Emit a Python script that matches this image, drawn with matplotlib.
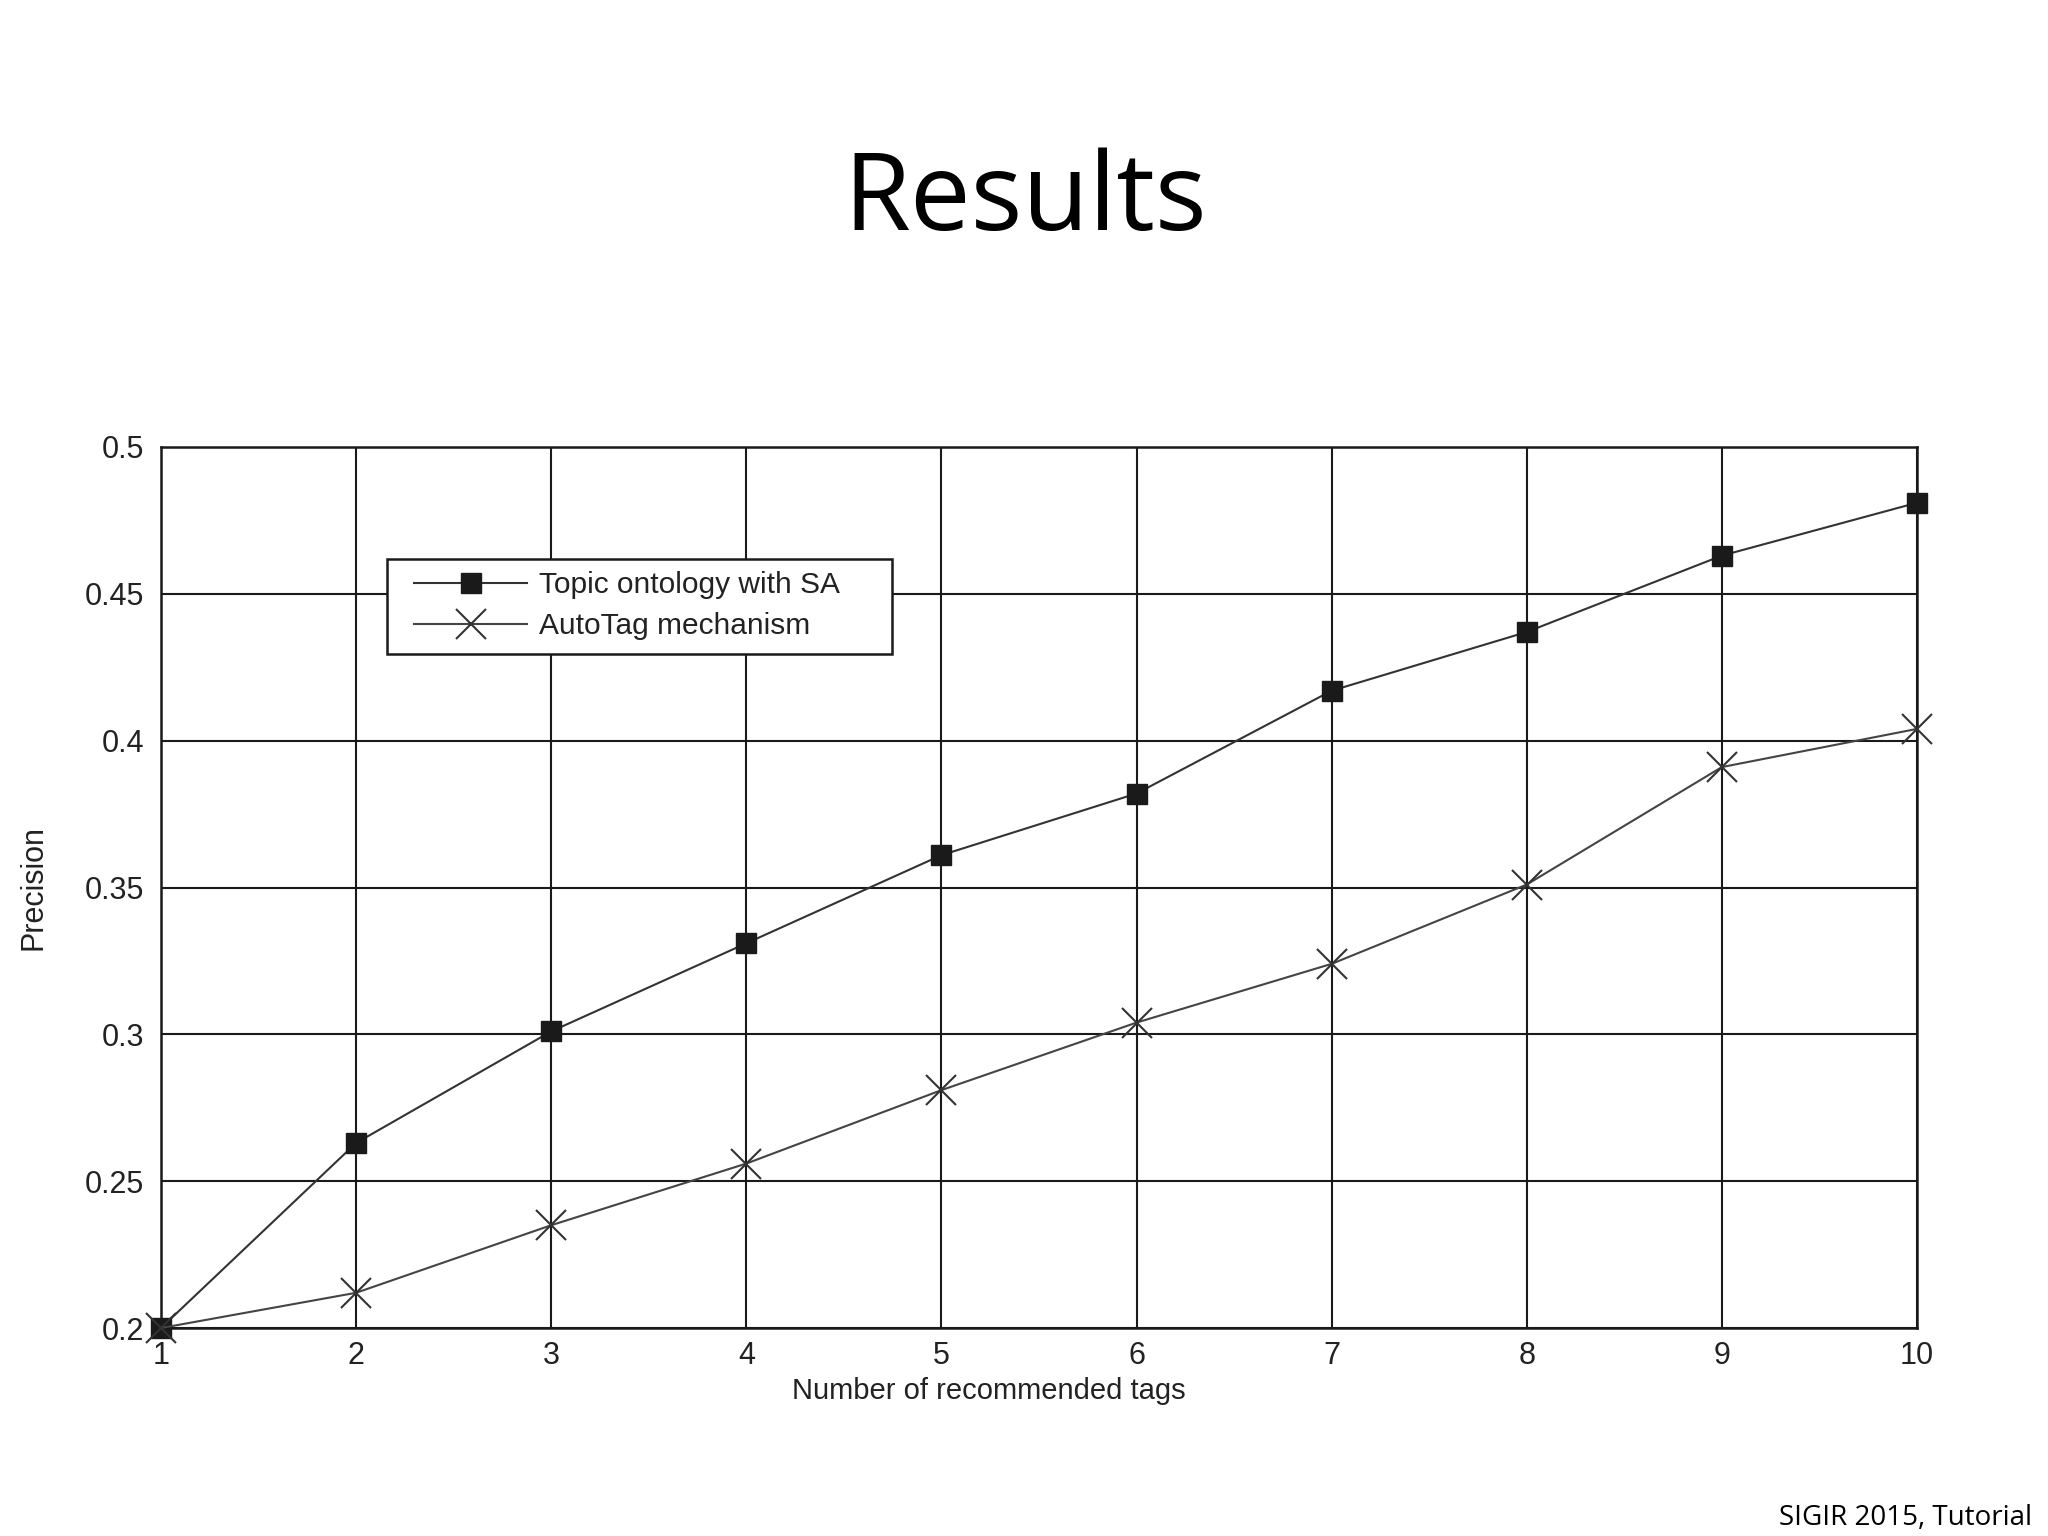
import matplotlib.pyplot as plt
from matplotlib.patches import Rectangle

# values
tags = [1, 2, 3, 4, 5, 6, 7, 8, 9, 10]
topic_sa = [0.200, 0.263, 0.301, 0.331, 0.361, 0.382, 0.417, 0.437, 0.463, 0.481]
autotag = [0.200, 0.212, 0.235, 0.256, 0.281, 0.304, 0.324, 0.351, 0.391, 0.404]
y_ticks = [0.2, 0.25, 0.3, 0.35, 0.4, 0.45, 0.5]
y_labels = ['0.2', '0.25', '0.3', '0.35', '0.4', '0.45', '0.5']

plt.rcParams['font.family'] = ['Liberation Sans', 'DejaVu Sans']

fig = plt.figure(figsize=(20.48, 15.36), dpi=100)
ax = fig.add_axes([0.0786, 0.1354, 0.9360 - 0.0786, 0.709 - 0.1354])

ax.plot(tags, topic_sa, color='#333333', lw=1.5, marker='s', ms=14,
        mfc='#1a1a1a', mec='#1a1a1a', label='Topic ontology with SA',
        zorder=3, clip_on=False)
ax.plot(tags, autotag, color='#444444', lw=1.5, marker='x', ms=22, mew=1.5,
        mec='#333333', label='AutoTag mechanism', zorder=3, clip_on=False)

ax.set_xlim(1, 10)
ax.set_ylim(0.2, 0.5)
ax.set_xticks(tags)
ax.set_yticks(y_ticks)
ax.set_yticklabels(y_labels)
ax.grid(True, color='#1a1a1a', lw=1.5)
ax.set_axisbelow(True)
for s in ax.spines.values():
    s.set_linewidth(1.8)
    s.set_color('#1a1a1a')
ax.tick_params(axis='both', length=0, labelsize=22, colors='#222222')
ax.tick_params(axis='x', pad=9)
ax.tick_params(axis='y', pad=12)

fig.text(0.483, 1 - 1391 / 1536, 'Number of recommended tags', fontsize=21,
         ha='center', va='center', color='#222222')
fig.text(33 / 2048, 1 - 888 / 1536, 'Precision', fontsize=22, rotation=90,
         ha='center', va='center', color='#222222')

# legend box drawn separately so it can be as wide as the original
box = Rectangle((387 / 2048, 1 - 654 / 1536), (892 - 387) / 2048, (654 - 559) / 1536,
                transform=fig.transFigure, facecolor='white', edgecolor='#1a1a1a',
                lw=1.8, zorder=4, clip_on=False)
ax.add_patch(box)
leg = ax.legend(loc='upper left', bbox_to_anchor=(405 / 2048, 1 - 562 / 1536),
                bbox_transform=fig.transFigure, borderaxespad=0, fontsize=21.5,
                handlelength=3.8, frameon=False, borderpad=0.3,
                labelspacing=0.45, handletextpad=0.4)
leg.set_zorder(6)
for t in leg.get_texts():
    t.set_color('#222222')

fig.text(1025 / 2048, 1 - 202 / 1536, 'Results', fontsize=78,
         family=['Open Sans', 'DejaVu Sans'], ha='center', va='center')
fig.text(2032 / 2048, 1 - 1525 / 1536, 'SIGIR 2015, Tutorial', fontsize=20,
         family=['Open Sans', 'DejaVu Sans'], ha='right', va='baseline')

fig.savefig('out.png', dpi=100, facecolor='white')
